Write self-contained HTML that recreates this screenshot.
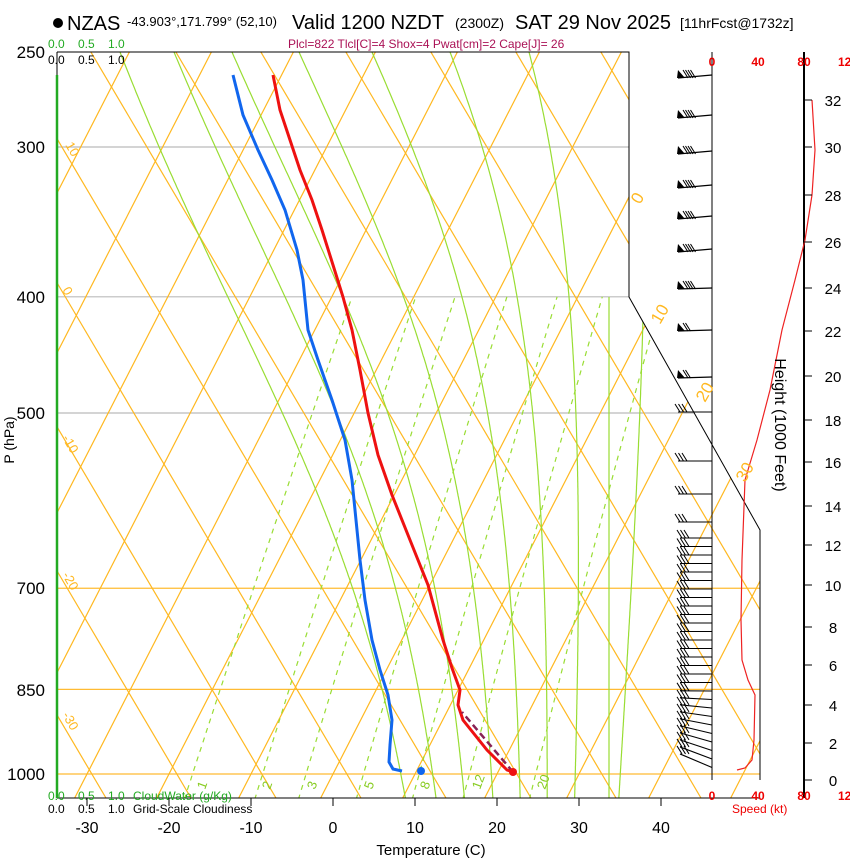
<!DOCTYPE html>
<html><head><meta charset="utf-8"><style>
body{margin:0;background:#fff;}
svg text{font-family:"Liberation Sans",sans-serif;}
</style></head><body>
<svg id="s" width="850" height="860" xmlns="http://www.w3.org/2000/svg">
<defs><clipPath id="cp"><polygon points="57,52 629,52 629,297 760,530 760,798 57,798"/></clipPath></defs>
<g id="grid" clip-path="url(#cp)"></g>
<polyline points="57,52 629,52 629,297 760,530 760,780" fill="none" stroke="#000" stroke-width="1"/>
<line x1="57" y1="798" x2="760" y2="798" stroke="#000"/>
<line x1="57" y1="52" x2="57" y2="798" stroke="#000"/>
<line x1="57" y1="75" x2="57" y2="798" stroke="#22aa22" stroke-width="2.5"/>
<g id="prof"></g>
<g id="winds"></g>
<g id="txt"></g>
</svg>
<script>
const NS='http://www.w3.org/2000/svg';
function el(p,tag,a,t){const e=document.createElementNS(NS,tag);for(const k in a)e.setAttribute(k,a[k]);if(t!==undefined)e.textContent=t;document.getElementById(p).appendChild(e);return e;}
function Y(p){return 774-520.8*Math.log(1000/p);}
function X(T,p){return 333+8.2*T+0.513*(774-Y(p));}
const g='grid';
[[300,'#bbb'],[400,'#bbb'],[500,'#bbb'],[700,'#ffbb33'],[850,'#ffbb33'],[1000,'#ffbb33']].forEach(([p,c])=>el(g,'line',{x1:57,x2:760,y1:Y(p),y2:Y(p),stroke:c,'stroke-width':1.2}));
for(let T=-120;T<=60;T+=10){el(g,'line',{x1:X(T,1050),y1:Y(1050),x2:X(T,240),y2:Y(240),stroke:'#ffb820','stroke-width':1.2});}
for(let k=-8;k<=14;k++){const xb=106+85*k;el(g,'line',{x1:xb,y1:798,x2:xb-0.59*800,y2:-2,stroke:'#ffb820','stroke-width':1.2});}
el(g,'line',{x1:609,y1:297,x2:609,y2:798,stroke:'#99dd33','stroke-width':1.2});
function es(Tc){return 6.112*Math.exp(17.67*Tc/(Tc+243.5));}
function step(T,p,dp){const Tk=T+273.15;const e=es(T);const rs=0.622*e/(p-e);
  const b=(287*Tk+2.5e6*rs)/(1004+(2.5e6*2.5e6*rs*0.622)/(287*Tk*Tk));return T+b/p*dp;}
function moist(T0){let T=T0,p=1000,low=[];
 while(p<1050){T=step(T,p,2);p+=2;low.push([T,p]);}
 T=T0;p=1000;let up=[[T0,1000]];
 while(p>250){T=step(T,p,-2);p-=2;up.push([T,p]);}
 return low.reverse().concat(up);}
function topX(T0){const a=moist(T0);const l=a[a.length-1];return X(l[0],l[1]);}
[120,174,232,299,372,450,529,640].forEach(tx=>{
 let lo=-80,hi=45;for(let i=0;i<34;i++){const m=(lo+hi)/2;if(topX(m)<tx)lo=m;else hi=m;}
 const pts=moist((lo+hi)/2).map(([t,pp])=>X(t,pp).toFixed(1)+','+Y(pp).toFixed(1));
 el(g,'polyline',{points:pts.join(' '),fill:'none',stroke:'#99dd33','stroke-width':1.2});
});
[1,2,3,5,8,12,20].forEach(w=>{let pts=[];for(let p=1050;p>=400;p-=10){const e=w*p/(622+w);const l=Math.log(e/6.112);const Td=243.5*l/(17.67-l);pts.push(X(Td,p).toFixed(1)+','+Y(p).toFixed(1));}
 el(g,'polyline',{points:pts.join(' '),fill:'none',stroke:'#99dd33','stroke-width':1.2,'stroke-dasharray':'5,5'});});
const red="273,75 280,110 290,140 300,170 312,200 322,230 333,265 343,297 352,330 360,370 368,413 378,455 392,495 410,540 428,585 443,640 452,668 460,690 458,705 463,720 487,750 507,770 513,772";
const blue="233,75 243,115 258,150 272,180 285,210 297,250 303,280 308,330 318,360 332,400 345,440 352,480 356,520 360,560 365,600 372,640 380,670 388,695 392,720 390,745 389,762 393,769 402,771";
el('prof','polyline',{points:blue,fill:'none',stroke:'#1166ee','stroke-width':3});
el('prof','polyline',{points:red,fill:'none',stroke:'#ee1111','stroke-width':3});
el('prof','line',{x1:513,y1:772,x2:462,y2:712,stroke:'#882255','stroke-width':2.5,'stroke-dasharray':'7,4'});
el('prof','circle',{cx:513,cy:772,r:4,fill:'#ee1111'});
el('prof','circle',{cx:421,cy:771,r:4,fill:'#1166ee'});
const w='winds';
el(w,'line',{x1:712,y1:52,x2:712,y2:780,stroke:'#000'});
el(w,'line',{x1:804,y1:52,x2:804,y2:798,stroke:'#000','stroke-width':2});
[75,115,151,185,216,249,288,330,377].forEach((y,i)=>{
 const dy=i<6?3:1;
 el(w,'line',{x1:712,y1:y,x2:678,y2:y+dy,stroke:'#000','stroke-width':1.3});
 el(w,'polygon',{points:`677,${y+dy} 678,${y+dy-8} 685,${y+dy}`,fill:'#000'});
 for(let j=0;j<(i<7?4:2);j++)el(w,'line',{x1:688+j*2.5,y1:y+dy,x2:683+j*2.5,y2:y+dy-8,stroke:'#000','stroke-width':1});
});
function barb(y,x2,y2,n){el(w,'line',{x1:712,y1:y,x2:x2,y2:y2,stroke:'#000','stroke-width':1.1});
 for(let j=0;j<n;j++)el(w,'line',{x1:x2+2+j*3.5,y1:y2,x2:x2-3+j*3.5,y2:y2-8,stroke:'#000','stroke-width':1});}
[412,461,494,522].forEach(y=>barb(y,678,y,3));
for(let y=538;y<=770;y+=8.5){const a=Math.max(0,(y-690)/80);barb(y,680,y-a*14,3);}
el(w,'polyline',{points:"812,100 815,150 812,195 805,240 795,280 782,330 770,390 757,440 745,480 742,560 741,620 742,660 748,680 755,695 754,740 752,760 745,768 737,770",fill:'none',stroke:'#ee2222','stroke-width':1.2});
const hy=[[0,780],[2,743],[4,705],[6,665],[8,627],[10,585],[12,545],[14,506],[16,462],[18,420],[20,376],[22,331],[24,288],[26,242],[28,195],[30,147],[32,100]];
hy.forEach(([h,y])=>{el(w,'line',{x1:804,y1:y,x2:812,y2:y,stroke:'#000'});el('txt','text',{x:833,y:y+6,'font-size':15,'text-anchor':'middle'},h);});
const t='txt';
function tx(x,y,s,txt,o){const a=Object.assign({x:x,y:y,'font-size':s},o||{});return el(t,'text',a,txt);}
el(t,'circle',{cx:58,cy:23,r:5,fill:'#000'});
tx(67,30,20,'NZAS');
tx(127,26,13,'-43.903°,171.799° (52,10)');
tx(292,29,20,'Valid 1200 NZDT');
tx(455,28,14,'(2300Z)');
tx(515,29,20,'SAT 29 Nov 2025');
tx(680,28,14,'[11hrFcst@1732z]');
tx(288,48,12,'Plcl=822 Tlcl[C]=4 Shox=4 Pwat[cm]=2 Cape[J]= 26',{fill:'#aa1155'});
tx(48,48,12,'0.0',{fill:'#22aa22'});tx(78,48,12,'0.5',{fill:'#22aa22'});tx(108,48,12,'1.0',{fill:'#22aa22'});
tx(48,64,12,'0.0');tx(78,64,12,'0.5');tx(108,64,12,'1.0');
tx(48,800,12,'0.0',{fill:'#22aa22'});tx(78,800,12,'0.5',{fill:'#22aa22'});tx(108,800,12,'1.0',{fill:'#22aa22'});tx(133,800,12,'CloudWater (g/Kg)',{fill:'#22aa22'});
tx(48,813,12,'0.0');tx(78,813,12,'0.5');tx(108,813,12,'1.0');tx(133,813,12,'Grid-Scale Cloudiness');
[[250,52],[300,147],[400,297],[500,413],[700,588],[850,690],[1000,774]].forEach(([p,y])=>tx(45,y+6,17,p,{'text-anchor':'end'}));
tx(0,0,14,'P (hPa)',{transform:'translate(14,440) rotate(-90)','text-anchor':'middle'});
[-30,-20,-10,0,10,20,30,40].forEach(T=>{const x=333+8.2*T;el(t,'line',{x1:x,y1:798,x2:x,y2:806,stroke:'#000'});tx(x,833,16,T,{'text-anchor':'middle'});});
tx(431,855,15,'Temperature (C)',{'text-anchor':'middle'});
[['0',712],['40',758],['80',804],['120',848]].forEach(([s,x])=>{tx(x,66,12,s,{fill:'#ee0000','text-anchor':'middle','font-weight':'bold'});tx(x,800,12,s,{fill:'#ee0000','text-anchor':'middle','font-weight':'bold'});});
tx(732,813,12,'Speed (kt)',{fill:'#ee0000'});
tx(0,0,16,'Height (1000 Feet)',{transform:'translate(775,425) rotate(90)','text-anchor':'middle'});
const o={fill:'#ffb820'};
[['10',65,145],['0',62,290],['-10',62,438],['-20',62,575],['-30',62,715]].forEach(([s,x,y])=>tx(x,y,13,s,Object.assign({transform:`rotate(60 ${x} ${y})`},o)));
[['0',640,205],['10',660,325],['20',705,403],['30',745,483]].forEach(([s,x,y])=>tx(x,y,17,s,Object.assign({transform:`rotate(-60 ${x} ${y})`},o)));
[['1',205,790],['2',270,790],['3',315,790],['5',372,790],['8',428,790],['12',480,790],['20',545,790]].forEach(([s,x,y])=>tx(x,y,13,s,{fill:'#88cc22',transform:`rotate(-70 ${x} ${y})`}));
</script>
</body></html>
